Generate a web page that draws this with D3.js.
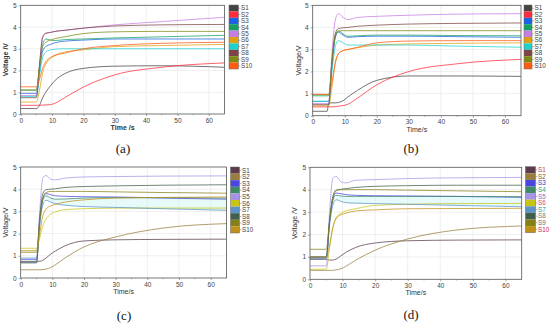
<!DOCTYPE html>
<html>
<head>
<meta charset="utf-8">
<script src="https://cdn.jsdelivr.net/npm/d3@7"></script>
<style>
  body { margin: 0; background: #fff; }
  svg { display: block; }
</style>
</head>
<body>
<div class="chart"></div>
<script>
// shared data
var time = [0, 4.5, 5, 6, 7, 8, 9.5, 11, 14, 20, 30, 45, 65];
var seriesNames = ["S1", "S2", "S3", "S4", "S5", "S6", "S7", "S8", "S9", "S10"];
var xTicks = [0, 10, 20, 30, 40, 50, 60];
var yTicks = [0, 1, 2, 3, 4, 5];

// (a)
var voltA = [
  [0.25, 0.25, 0.25, 0.4, 0.75, 1.0, 1.3, 1.55, 1.85, 2.1, 2.2, 2.22, 2.15],
  [0.4, 0.4, 0.4, 0.4, 0.41, 0.42, 0.43, 0.5, 0.75, 1.24, 1.8, 2.15, 2.35],
  [0.95, 0.95, 0.95, 1.9, 2.9, 3.1, 3.2, 3.28, 3.35, 3.4, 3.45, 3.45, 3.45],
  [1.1, 1.1, 1.1, 2.1, 3.2, 3.45, 3.4, 3.38, 3.42, 3.45, 3.5, 3.55, 3.62],
  [0.85, 0.85, 0.85, 2.2, 3.5, 3.7, 3.76, 3.8, 3.85, 3.95, 4.1, 4.25, 4.45],
  [0.55, 0.55, 0.55, 1.1, 1.9, 2.3, 2.55, 2.7, 2.85, 2.95, 3.1, 3.15, 3.2],
  [0.8, 0.8, 0.8, 1.8, 2.6, 2.85, 2.95, 2.98, 3.0, 3.0, 3.0, 3.0, 3.0],
  [0.75, 0.75, 0.75, 2.3, 3.55, 3.72, 3.75, 3.8, 3.85, 3.95, 4.05, 4.1, 4.12],
  [1.1, 1.1, 1.1, 2.2, 3.1, 3.3, 3.4, 3.47, 3.55, 3.7, 3.78, 3.8, 3.8],
  [1.25, 1.25, 1.25, 1.6, 2.1, 2.4, 2.6, 2.7, 2.8, 3.0, 3.15, 3.25, 3.3]
];

// (b)
var voltB = [
  [0.2, 0.2, 0.58, 0.58, 0.58, 0.6, 0.68, 0.85, 1.15, 1.6, 1.8, 1.8, 1.78],
  [0.4, 0.4, 0.4, 0.4, 0.41, 0.43, 0.46, 0.52, 0.8, 1.4, 2.0, 2.35, 2.55],
  [0.65, 0.65, 0.65, 2.2, 3.5, 3.78, 3.65, 3.55, 3.58, 3.6, 3.6, 3.58, 3.55],
  [0.9, 0.9, 0.9, 2.4, 3.6, 3.85, 3.7, 3.6, 3.62, 3.65, 3.65, 3.63, 3.62],
  [0.55, 0.55, 0.55, 2.8, 4.3, 4.62, 4.45, 4.35, 4.45, 4.5, 4.55, 4.6, 4.62],
  [0.45, 0.45, 0.45, 1.3, 2.3, 2.8, 2.95, 3.0, 3.08, 3.2, 3.25, 3.28, 3.3],
  [0.65, 0.65, 0.65, 2.0, 3.1, 3.4, 3.3, 3.2, 3.2, 3.2, 3.2, 3.15, 3.1],
  [0.5, 0.5, 0.5, 2.5, 3.7, 3.95, 3.98, 4.0, 4.05, 4.1, 4.15, 4.18, 4.2],
  [0.95, 0.95, 0.95, 2.4, 3.55, 3.82, 3.85, 3.85, 3.85, 3.85, 3.85, 3.85, 3.85],
  [0.97, 0.97, 0.97, 1.5, 2.4, 2.8, 2.95, 3.0, 3.1, 3.3, 3.38, 3.4, 3.4]
];

// (c)
var voltC = [
  [0.75, 0.75, 0.75, 0.75, 0.8, 0.9, 1.08, 1.22, 1.45, 1.67, 1.72, 1.74, 1.75],
  [0.37, 0.37, 0.37, 0.37, 0.38, 0.4, 0.47, 0.6, 0.9, 1.4, 1.85, 2.25, 2.45],
  [0.84, 0.84, 0.84, 2.6, 3.6, 3.8, 3.75, 3.7, 3.68, 3.66, 3.65, 3.6, 3.55],
  [0.72, 0.72, 0.72, 2.4, 3.5, 3.7, 3.6, 3.55, 3.56, 3.6, 3.62, 3.62, 3.6],
  [0.7, 0.7, 0.7, 3.0, 4.5, 4.62, 4.45, 4.42, 4.5, 4.55, 4.57, 4.59, 4.6],
  [1.34, 1.34, 1.34, 1.8, 2.35, 2.65, 2.88, 2.98, 3.08, 3.12, 3.15, 3.15, 3.15],
  [0.9, 0.9, 0.9, 2.4, 3.3, 3.5, 3.42, 3.35, 3.28, 3.22, 3.18, 3.12, 3.05],
  [0.68, 0.68, 0.68, 2.7, 3.8, 3.98, 4.0, 4.02, 4.08, 4.12, 4.15, 4.18, 4.2],
  [1.16, 1.16, 1.16, 2.6, 3.6, 3.85, 3.9, 3.9, 3.9, 3.9, 3.88, 3.85, 3.82],
  [1.23, 1.23, 1.23, 2.0, 2.8, 3.1, 3.25, 3.32, 3.42, 3.52, 3.6, 3.63, 3.65]
];

// (d)
var voltD = [
  [0.89, 0.89, 0.89, 0.86, 0.86, 0.9, 1.05, 1.2, 1.42, 1.62, 1.72, 1.75, 1.76],
  [0.4, 0.4, 0.4, 0.4, 0.4, 0.42, 0.47, 0.58, 0.85, 1.3, 1.8, 2.2, 2.38],
  [0.98, 0.98, 0.98, 2.6, 3.6, 3.85, 3.82, 3.78, 3.75, 3.73, 3.72, 3.7, 3.66],
  [0.94, 0.94, 0.94, 2.5, 3.5, 3.75, 3.72, 3.7, 3.7, 3.7, 3.7, 3.7, 3.69],
  [0.6, 0.6, 0.6, 3.0, 4.5, 4.6, 4.35, 4.3, 4.42, 4.45, 4.5, 4.53, 4.55],
  [0.45, 0.45, 0.45, 1.4, 2.3, 2.75, 2.95, 3.05, 3.15, 3.3, 3.35, 3.38, 3.39],
  [0.95, 0.95, 0.95, 2.4, 3.3, 3.55, 3.48, 3.42, 3.4, 3.38, 3.35, 3.3, 3.24],
  [1.01, 1.01, 1.01, 2.6, 3.7, 3.98, 4.02, 4.05, 4.1, 4.15, 4.18, 4.2, 4.2],
  [1.34, 1.34, 1.34, 2.6, 3.6, 3.95, 4.0, 4.0, 4.0, 4.0, 3.98, 3.95, 3.91],
  [1.0, 1.0, 1.0, 1.5, 2.3, 2.7, 2.88, 2.95, 3.05, 3.1, 3.15, 3.16, 3.17]
];

var colorsAB = ["#444444", "#ff2b3a", "#1a62e6", "#14a062", "#c67ee6", "#e0a010",
                "#1cd2cf", "#7c4444", "#7c8a12", "#ff5a10"];
var colorsCD = ["#5a3c4a", "#9a7c3c", "#4a44e0", "#3c8a66", "#a894e6", "#c8c414",
                "#5c94c8", "#40604c", "#848018", "#c09018"];
var labelColorsD = ["#c03a5a", "#7a5a30", "#2a36c8", "#1aa080", "#8a64c8", "#c84a7a",
                    "#1a9aa0", "#7a7a7a", "#6a6a6a", "#d0284a"];

var panels = [
  {data: voltA, colors: colorsAB, labelColors: null, left: 20.7, right: 224.5, top: 5.3, bottom: 114,
   legX: 229, legW: 9.5, legTop: 5, legH: 64, yTitle: "Voltage /V", xTitle: "Time /s", cap: "(a)",
   capX: 123, capY: 153, yTitleX: 5, bold: true},
  {data: voltB, colors: colorsAB, labelColors: null, left: 312.7, right: 521, top: 5.3, bottom: 115.7,
   legX: 524, legW: 8, legTop: 5, legH: 64, yTitle: "Voltage/V", xTitle: "Time/s", cap: "(b)",
   capX: 411, capY: 153, yTitleX: 298, bold: false},
  {data: voltC, colors: colorsCD, labelColors: null, left: 20.7, right: 226.5, top: 167, bottom: 278,
   legX: 230.5, legW: 9, legTop: 167, legH: 66, yTitle: "Voltage/V", xTitle: "Time/s", cap: "(c)",
   capX: 124, capY: 320, yTitleX: 5, bold: false},
  {data: voltD, colors: colorsCD, labelColors: labelColorsD, left: 310, right: 521.7, top: 167.3, bottom: 279.3,
   legX: 525.5, legW: 10, legTop: 166.7, legH: 66, yTitle: "Voltage /V", xTitle: "Time/s", cap: "(d)",
   capX: 411, capY: 319, yTitleX: 294, bold: false}
];

var W = 550, H = 324;
var svg = d3.select(".chart").append("svg").attr("width", W).attr("height", H);
var font = "Liberation Sans, Arial, sans-serif";

panels.forEach(function(p) {
  var x = d3.scaleLinear().domain([0, 65]).range([p.left, p.right]);
  var y = d3.scaleLinear().domain([0, 5]).range([p.bottom, p.top]);
  var g = svg.append("g");

  // grid
  g.selectAll(".gx").data(xTicks.slice(1)).enter().append("line")
    .attr("x1", function(d) { return x(d); }).attr("x2", function(d) { return x(d); })
    .attr("y1", p.top).attr("y2", p.bottom)
    .attr("stroke", "#e4e4e4").attr("stroke-width", 0.6);
  g.selectAll(".gy").data(yTicks.slice(1, -1)).enter().append("line")
    .attr("y1", function(d) { return y(d); }).attr("y2", function(d) { return y(d); })
    .attr("x1", p.left).attr("x2", p.right)
    .attr("stroke", "#e4e4e4").attr("stroke-width", 0.6);

  // light cyan band seen in the lower panels
  if (p.colors === colorsCD) {
    var band = d3.area().curve(d3.curveMonotoneX)
      .x(function(d, i) { return x(time[i + 5]); })
      .y0(function(d, i) { return y(p.data[6][i + 5]); })
      .y1(function(d, i) { return y(p.data[3][i + 5]); });
    g.append("path").datum(time.slice(5))
      .attr("d", band)
      .attr("fill", "#c8f4f4").attr("opacity", 0.45);
  }

  // lines
  var line = d3.line().curve(d3.curveMonotoneX)
    .x(function(d, i) { return x(time[i]); })
    .y(function(d) { return y(d); });
  g.selectAll(".ln").data(p.data).enter().append("path")
    .attr("d", line)
    .attr("fill", "none")
    .attr("stroke", function(d, i) { return p.colors[i]; })
    .attr("stroke-opacity", 0.75)
    .attr("stroke-width", 1);

  // frame
  g.append("rect").attr("x", p.left).attr("y", p.top)
    .attr("width", p.right - p.left).attr("height", p.bottom - p.top)
    .attr("fill", "none").attr("stroke", "#555").attr("stroke-width", 0.8);

  // axes
  var xAxis = d3.axisBottom(x).tickValues(xTicks).tickSize(2).tickPadding(2).tickFormat(d3.format("d"));
  var yAxis = d3.axisLeft(y).tickValues(yTicks).tickSize(2).tickPadding(2).tickFormat(d3.format("d"));
  var ax = g.append("g").attr("transform", "translate(0," + p.bottom + ")").call(xAxis);
  var ay = g.append("g").attr("transform", "translate(" + p.left + ",0)").call(yAxis);
  [ax, ay].forEach(function(a) {
    a.select(".domain").remove();
    a.selectAll("line").attr("stroke", "#666").attr("stroke-width", 0.6);
    a.selectAll("text").attr("font-family", font).attr("font-size", 6.5).attr("fill", "#444");
  });
  // minor x ticks
  g.selectAll(".mx").data([5, 15, 25, 35, 45, 55]).enter().append("line")
    .attr("x1", function(d) { return x(d); }).attr("x2", function(d) { return x(d); })
    .attr("y1", p.bottom).attr("y2", p.bottom + 1.2)
    .attr("stroke", "#666").attr("stroke-width", 0.5);

  // titles
  g.append("text").text(p.xTitle)
    .attr("x", (p.left + p.right) / 2).attr("y", p.bottom + 16)
    .attr("text-anchor", "middle").attr("font-family", font).attr("font-size", 7)
    .attr("font-weight", p.bold ? "bold" : "normal").attr("fill", "#333");
  g.append("text").text(p.yTitle)
    .attr("transform", "translate(" + (p.yTitleX + 2.5) + "," + ((p.top + p.bottom) / 2) + ") rotate(-90)")
    .attr("text-anchor", "middle").attr("font-family", font).attr("font-size", 7)
    .attr("font-weight", p.bold ? "bold" : "normal").attr("fill", "#333");

  // legend
  var rowH = p.legH / seriesNames.length;
  var leg = g.selectAll(".lg").data(seriesNames).enter().append("g")
    .attr("transform", function(d, i) { return "translate(" + p.legX + "," + (p.legTop + i * rowH) + ")"; });
  leg.append("rect").attr("width", p.legW).attr("height", rowH)
    .attr("fill", function(d, i) { return p.colors[i]; });
  leg.append("line").attr("x1", p.legW).attr("x2", p.legW + 2)
    .attr("y1", rowH / 2).attr("y2", rowH / 2)
    .attr("stroke", "#666").attr("stroke-width", 0.5);
  leg.append("text").text(function(d) { return d; })
    .attr("x", p.legW + 2.5).attr("y", rowH / 2 + 2.2)
    .attr("font-family", font).attr("font-size", 6.3)
    .attr("fill", function(d, i) { return p.labelColors ? p.labelColors[i] : "#444"; });
  g.append("rect").attr("x", p.legX).attr("y", p.legTop)
    .attr("width", p.legW).attr("height", p.legH)
    .attr("fill", "none").attr("stroke", "#666").attr("stroke-width", 0.5);

  // caption
  g.append("text").text(p.cap)
    .attr("x", p.capX).attr("y", p.capY)
    .attr("text-anchor", "middle").attr("font-family", "Liberation Serif, Times New Roman, serif")
    .attr("font-size", 13).attr("fill", "#111");
});
</script>
</body>
</html>
